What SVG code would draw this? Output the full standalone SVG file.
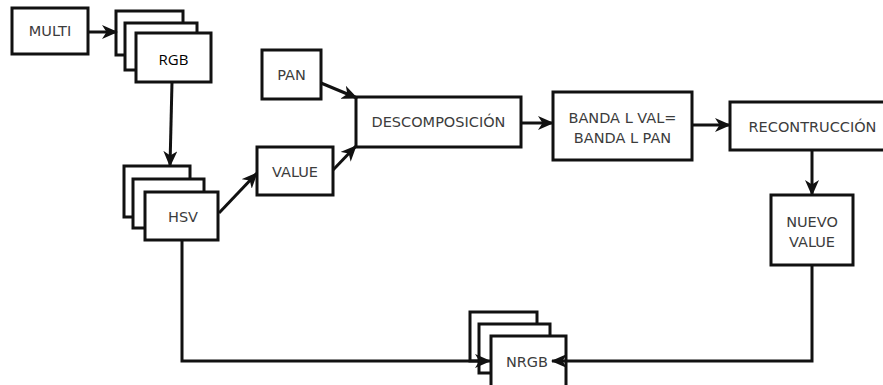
<svg xmlns="http://www.w3.org/2000/svg" width="883" height="385" viewBox="0 0 883 385">
  <style>
    .box { fill: #fff; stroke: #111; stroke-width: 3; }
    .lbl { font-family: "DejaVu Sans", Verdana, sans-serif; font-size: 14.5px; fill: #3c3c3c; text-anchor: middle; }
    .lbl2 { font-family: "Open Sans", "Liberation Sans", sans-serif; font-size: 15px; fill: #000; text-anchor: middle; }
    .wire { fill: none; stroke: #111; stroke-width: 3; }
  </style>
  <defs>
    <marker id="arrow" viewBox="0 0 16 14" refX="15" refY="7" markerWidth="16" markerHeight="14" markerUnits="userSpaceOnUse" orient="auto">
      <path d="M0,0 L16,7 L0,14 L4.5,7 z" fill="#111"/>
    </marker>
  </defs>
  <rect width="883" height="385" fill="#fff"/>

  <g id="multi">
    <rect class="box" x="12" y="8" width="76" height="46"/>
    <text class="lbl" x="50" y="36">MULTI</text>
  </g>

  <g id="rgb">
    <rect class="box" x="116" y="11" width="67" height="44"/>
    <rect class="box" x="125" y="23" width="72" height="47"/>
    <rect class="box" x="136" y="33" width="75" height="49"/>
    <text class="lbl2" x="173.5" y="65">RGB</text>
  </g>

  <g id="pan">
    <rect class="box" x="262" y="50" width="59" height="49"/>
    <text class="lbl" x="291.5" y="80">PAN</text>
  </g>

  <g id="hsv">
    <rect class="box" x="124" y="166" width="66" height="51"/>
    <rect class="box" x="133" y="179" width="71" height="49"/>
    <rect class="box" x="145" y="192" width="73" height="48"/>
    <text class="lbl" x="183" y="222">HSV</text>
  </g>

  <g id="value">
    <rect class="box" x="257" y="147" width="76" height="48"/>
    <text class="lbl" x="295" y="177">VALUE</text>
  </g>

  <g id="descomposicion">
    <rect class="box" x="356" y="97" width="165" height="50"/>
    <text class="lbl" x="438.5" y="127">DESCOMPOSICIÓN</text>
  </g>

  <g id="banda">
    <rect class="box" x="553" y="92" width="139" height="68"/>
    <text class="lbl" x="622.5" y="123">BANDA L VAL=</text>
    <text class="lbl" x="622.5" y="143">BANDA L PAN</text>
  </g>

  <g id="recontruccion">
    <rect class="box" x="730" y="102" width="165" height="48"/>
    <text class="lbl" x="812.5" y="132">RECONTRUCCIÓN</text>
  </g>

  <g id="nuevo-value">
    <rect class="box" x="771" y="195" width="82" height="70"/>
    <text class="lbl" x="812" y="227">NUEVO</text>
    <text class="lbl" x="812" y="247">VALUE</text>
  </g>

  <g id="nrgb">
    <rect class="box" x="470" y="312" width="67" height="49"/>
    <rect class="box" x="479" y="324" width="71" height="49"/>
    <rect class="box" x="491" y="336" width="75" height="56"/>
    <text class="lbl" x="527" y="367">NRGB</text>
  </g>

  <g id="connectors">
    <line class="wire" x1="88" y1="32" x2="117" y2="32" marker-end="url(#arrow)"/>
    <line class="wire" x1="172" y1="82" x2="170" y2="166" marker-end="url(#arrow)"/>
    <line class="wire" x1="219" y1="213" x2="257" y2="173" marker-end="url(#arrow)"/>
    <line class="wire" x1="333" y1="170" x2="356" y2="146" marker-end="url(#arrow)"/>
    <line class="wire" x1="321" y1="83" x2="357" y2="98" marker-end="url(#arrow)"/>
    <line class="wire" x1="521" y1="123" x2="553" y2="123" marker-end="url(#arrow)"/>
    <line class="wire" x1="692" y1="125" x2="730" y2="125" marker-end="url(#arrow)"/>
    <line class="wire" x1="812" y1="150" x2="812" y2="195" marker-end="url(#arrow)"/>
    <polyline class="wire" points="182,240 182,361 490,361" marker-end="url(#arrow)"/>
    <polyline class="wire" points="812,265 812,361 552,361" marker-end="url(#arrow)"/>
  </g>
</svg>
